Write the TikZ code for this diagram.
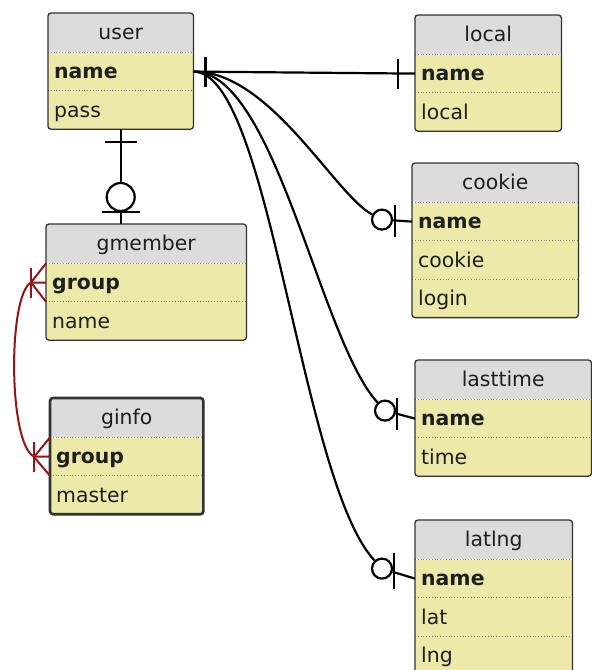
\documentclass[tikz,border=0pt]{standalone}
\usepackage{fontspec}
\setmainfont{DejaVu Sans}
\usetikzlibrary{positioning,calc}

\definecolor{headgray}{RGB}{220,220,220}
\definecolor{rowyellow}{RGB}{237,233,168}
\definecolor{framegray}{RGB}{50,50,50}
\definecolor{sepgray}{RGB}{140,140,140}
\definecolor{inkgray}{RGB}{30,30,35}
\definecolor{fkred}{RGB}{150,20,20}

\begin{document}
\begin{tikzpicture}[x=1pt,y=-1pt,font=\fontsize{20.4}{24}\selectfont,text=inkgray,
    thead/.style={anchor=north west,fill=headgray,text width=#1,align=center,
      inner xsep=0pt,inner ysep=0pt,minimum height=39pt,text height=16pt,text depth=2pt},
    trow/.style={fill=rowyellow,text width=#1,align=left,inner xsep=6pt,
      inner ysep=0pt,minimum height=38pt,text height=16pt,text depth=2pt},
    tframe/.style={draw=framegray,line width=1.3pt,rounded corners=3pt},
    tsep/.style={draw=sepgray,line width=0.8pt,dotted},
    rel/.style={line width=2.2pt},
    fk/.style={draw=fkred,line width=2pt},
    zero/.style={circle,draw,line width=2.2pt,fill=white,minimum size=20pt,inner sep=0pt}]

  \clip (0,0) rectangle (592,670);

  % tables
  \node[thead=145pt] (user) at (48,13) {user};
  \node[trow=133pt,below=0pt of user] (user-name) {\textbf{name}};
  \node[trow=133pt,below=0pt of user-name] (user-pass) {pass};

  \node[thead=146pt] (local) at (415,15) {local};
  \node[trow=134pt,below=0pt of local] (local-name) {\textbf{name}};
  \node[trow=134pt,below=0pt of local-name] (local-local) {local};

  \node[thead=166pt] (cookie) at (412,163) {cookie};
  \node[trow=154pt,below=0pt of cookie] (cookie-name) {\textbf{name}};
  \node[trow=154pt,below=0pt of cookie-name] (cookie-cookie) {cookie};
  \node[trow=154pt,below=0pt of cookie-cookie] (cookie-login) {login};

  \node[thead=200pt] (gmember) at (46,224) {gmember};
  \node[trow=188pt,below=0pt of gmember] (gmember-group) {\textbf{group}};
  \node[trow=188pt,below=0pt of gmember-group] (gmember-name) {name};

  \node[thead=153pt] (ginfo) at (50,398) {ginfo};
  \node[trow=141pt,below=0pt of ginfo] (ginfo-group) {\textbf{group}};
  \node[trow=141pt,below=0pt of ginfo-group] (ginfo-master) {master};

  \node[thead=176pt] (lasttime) at (415,360) {lasttime};
  \node[trow=164pt,below=0pt of lasttime] (lasttime-name) {\textbf{name}};
  \node[trow=164pt,below=0pt of lasttime-name] (lasttime-time) {time};

  \node[thead=157pt] (latlng) at (415,520) {latlng};
  \node[trow=145pt,below=0pt of latlng] (latlng-name) {\textbf{name}};
  \node[trow=145pt,below=0pt of latlng-name] (latlng-lat) {lat};
  \node[trow=145pt,below=0pt of latlng-lat] (latlng-lng) {lng};

  \foreach \r in {user-name,user-pass,local-name,local-local,cookie-name,
      cookie-cookie,cookie-login,gmember-group,gmember-name,ginfo-group,
      ginfo-master,lasttime-name,lasttime-time,latlng-name,latlng-lat,latlng-lng}
    \draw[tsep] (\r.north west) -- (\r.north east);

  \draw[tframe] (user.north west) rectangle (user-pass.south east);
  \draw[tframe] (local.north west) rectangle (local-local.south east);
  \draw[tframe] (cookie.north west) rectangle (cookie-login.south east);
  \draw[tframe] (gmember.north west) rectangle (gmember-name.south east);
  \draw[tframe,line width=2.6pt] (ginfo.north west) rectangle (ginfo-master.south east);
  \draw[tframe] (lasttime.north west) rectangle (lasttime-time.south east);
  \draw[tframe] (latlng.north west) rectangle (latlng-lng.south east);

  % user -- local
  \draw[rel] (user-name.east) -- (local-name.west);
  \draw[rel] ($(user-name.east)+(12,-15)$) -- +(0,30);
  \draw[rel] ($(local-name.west)+(-17,-15)$) -- +(0,30);

  % user -- cookie
  \node[zero] (z-cookie) at ($(cookie-name.west)+(-30,-2)$) {};
  \draw[rel] (user-name.east) .. controls (270,71) and (335,195) .. (z-cookie);
  \draw[rel] (z-cookie) -- (cookie-name.west);
  \draw[rel] ($(cookie-name.west)+(-17,-17)$) -- +(0,32);

  % user -- lasttime
  \node[zero] (z-lasttime) at ($(lasttime-name.west)+(-30,-8)$) {};
  \draw[rel] (user-name.east) .. controls (275,71) and (320,340) .. (z-lasttime);
  \draw[rel] (z-lasttime) -- (lasttime-name.west);
  \draw[rel] ($(lasttime-name.west)+(-18,-21)$) -- +(0,32);

  % user -- latlng
  \node[zero] (z-latlng) at ($(latlng-name.west)+(-33,-10)$) {};
  \draw[rel] (user-name.east) .. controls (270,71) and (300,480) .. (z-latlng);
  \draw[rel] (z-latlng) -- (latlng-name.west);
  \draw[rel] ($(latlng-name.west)+(-21,-26)$) -- +(0,36);

  % user -- gmember
  \coordinate (g-top) at (gmember.north -| user-pass.south);
  \node[zero,minimum size=28pt] (z-gmember) at ($(g-top)+(0,-27)$) {};
  \draw[rel] (user-pass.south) -- (z-gmember) -- (g-top);
  \draw[rel] ($(user-pass.south)+(-16,13)$) -- +(32,0);
  \draw[rel] ($(g-top)+(-19,-12)$) -- +(38,0);

  % gmember -- ginfo
  \draw[fk] (gmember-group.west) -- ++(-15,0)
    .. controls +(-23,12) and +(-26,-13) .. ($(ginfo-group.west)+(-16,0)$)
    -- (ginfo-group.west);
  \draw[fk] (gmember-group.north west) -- ++(-15,19) -- (gmember-group.south west);
  \draw[fk] ($(gmember-group.west)+(-15,-15)$) -- +(0,30);
  \draw[fk] (ginfo-group.north west) -- ++(-16,19.5) -- (ginfo-group.south west);
  \draw[fk] ($(ginfo-group.west)+(-16,-15)$) -- +(0,30);
\end{tikzpicture}
\end{document}
